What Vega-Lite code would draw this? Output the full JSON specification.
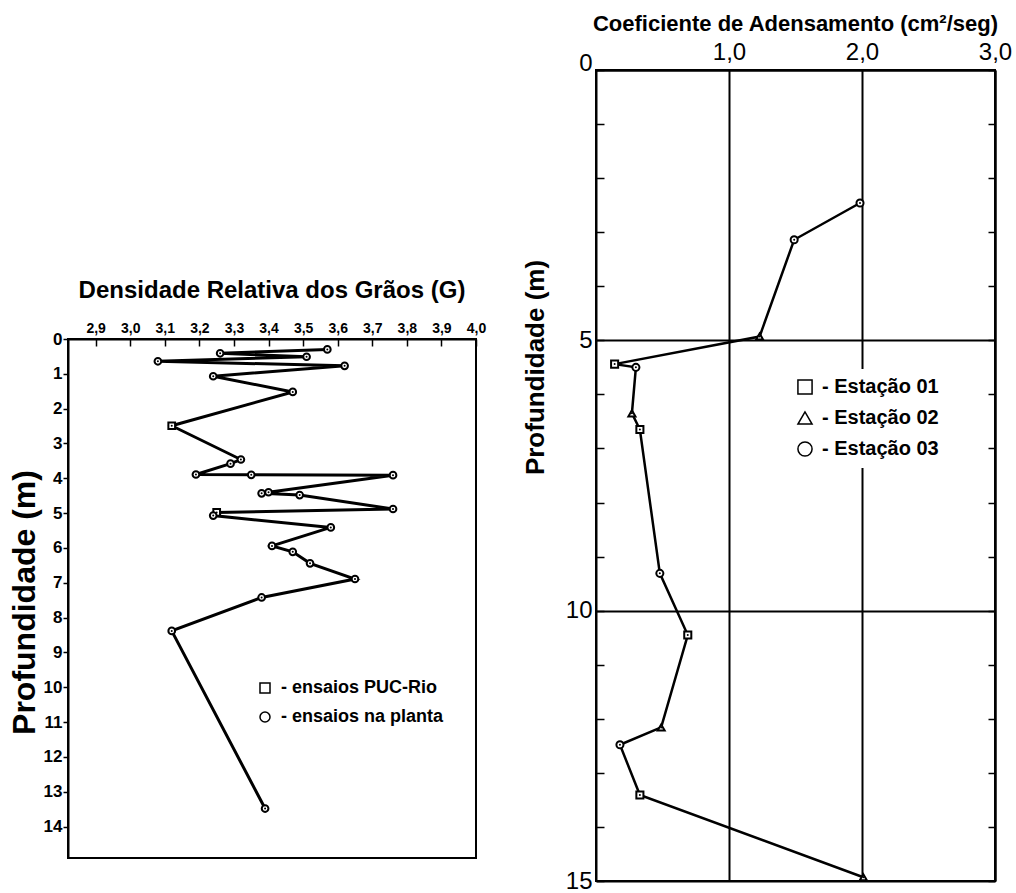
{
  "$schema": "https://vega.github.io/schema/vega-lite/v6.json",
  "background": "white",
  "padding": {"left": 7, "top": 12, "right": 0, "bottom": 0},
  "config": {
    "font": "Liberation Sans",
    "view": {"stroke": "black", "strokeWidth": 2},
    "axis": {"domainColor": "black", "domainWidth": 2, "tickColor": "black", "tickWidth": 1.5, "labelColor": "black", "titleColor": "black", "grid": false},
    "title": {"color": "black"},
    "legend": {"labelColor": "black"}
  },
  "datasets": {
    "dens": [
      {"G": 3.57, "depth": 0.30, "tipo": "ensaios na planta"},
      {"G": 3.26, "depth": 0.41, "tipo": "ensaios na planta"},
      {"G": 3.51, "depth": 0.51, "tipo": "ensaios na planta"},
      {"G": 3.08, "depth": 0.64, "tipo": "ensaios na planta"},
      {"G": 3.62, "depth": 0.77, "tipo": "ensaios na planta"},
      {"G": 3.24, "depth": 1.07, "tipo": "ensaios na planta"},
      {"G": 3.47, "depth": 1.52, "tipo": "ensaios na planta"},
      {"G": 3.12, "depth": 2.49, "tipo": "ensaios PUC-Rio"},
      {"G": 3.32, "depth": 3.46, "tipo": "ensaios na planta"},
      {"G": 3.29, "depth": 3.58, "tipo": "ensaios na planta"},
      {"G": 3.19, "depth": 3.89, "tipo": "ensaios na planta"},
      {"G": 3.35, "depth": 3.90, "tipo": "ensaios na planta"},
      {"G": 3.76, "depth": 3.91, "tipo": "ensaios na planta"},
      {"G": 3.40, "depth": 4.40, "tipo": "ensaios na planta"},
      {"G": 3.38, "depth": 4.43, "tipo": "ensaios na planta"},
      {"G": 3.49, "depth": 4.48, "tipo": "ensaios na planta"},
      {"G": 3.76, "depth": 4.88, "tipo": "ensaios na planta"},
      {"G": 3.25, "depth": 4.98, "tipo": "ensaios PUC-Rio"},
      {"G": 3.24, "depth": 5.07, "tipo": "ensaios na planta"},
      {"G": 3.58, "depth": 5.41, "tipo": "ensaios na planta"},
      {"G": 3.41, "depth": 5.94, "tipo": "ensaios na planta"},
      {"G": 3.47, "depth": 6.11, "tipo": "ensaios na planta"},
      {"G": 3.52, "depth": 6.44, "tipo": "ensaios na planta"},
      {"G": 3.65, "depth": 6.89, "tipo": "ensaios na planta"},
      {"G": 3.38, "depth": 7.42, "tipo": "ensaios na planta"},
      {"G": 3.12, "depth": 8.38, "tipo": "ensaios na planta"},
      {"G": 3.39, "depth": 13.48, "tipo": "ensaios na planta"}
    ],
    "coef": [
      {"c": 1.985, "depth": 2.46, "est": "Estação 03"},
      {"c": 1.49, "depth": 3.14, "est": "Estação 03"},
      {"c": 1.23, "depth": 4.93, "est": "Estação 02"},
      {"c": 0.14, "depth": 5.44, "est": "Estação 01"},
      {"c": 0.30, "depth": 5.50, "est": "Estação 03"},
      {"c": 0.27, "depth": 6.35, "est": "Estação 02"},
      {"c": 0.33, "depth": 6.65, "est": "Estação 01"},
      {"c": 0.48, "depth": 9.31, "est": "Estação 03"},
      {"c": 0.69, "depth": 10.45, "est": "Estação 01"},
      {"c": 0.49, "depth": 12.16, "est": "Estação 02"},
      {"c": 0.18, "depth": 12.48, "est": "Estação 03"},
      {"c": 0.33, "depth": 13.41, "est": "Estação 01"},
      {"c": 2.01, "depth": 14.93, "est": "Estação 02"}
    ]
  },
  "hconcat": [
    {
      "spacing": 0,
      "resolve": {"legend": {"shape": "independent"}, "scale": {"shape": "independent"}},
      "vconcat": [
        {
          "width": 408,
          "height": 208,
          "view": {"stroke": null},
          "data": {"values": [{}]},
          "mark": {"type": "point", "opacity": 0}
        },
        {
          "width": 408,
          "height": 519,
          "title": {"text": "Densidade Relativa dos Grãos (G)", "fontSize": 24, "fontWeight": "bold", "offset": 18},
          "data": {"name": "dens"},
          "encoding": {
            "x": {"field": "G", "type": "quantitative",
              "scale": {"domain": [2.82, 4.0], "nice": false, "zero": false},
              "axis": {"orient": "top", "values": [2.9, 3.0, 3.1, 3.2, 3.3, 3.4, 3.5, 3.6, 3.7, 3.8, 3.9, 4.0],
                "labelExpr": "replace(format(datum.value, '.1f'), '.', ',')",
                "labelFontSize": 14, "labelFontWeight": "bold", "tickSize": -7, "labelPadding": 11,
                "title": null, "labelFlush": false, "labelOverlap": false}},
            "y": {"field": "depth", "type": "quantitative",
              "scale": {"domain": [0, 14.9], "nice": false, "zero": false, "reverse": true},
              "axis": {"values": [0, 1, 2, 3, 4, 5, 6, 7, 8, 9, 10, 11, 12, 13, 14],
                "labelFontSize": 17, "labelFontWeight": "bold", "tickSize": 5, "labelPadding": 1,
                "labelOverlap": false, "title": "Profundidade (m)", "titleFontSize": 32,
                "titleFontWeight": "bold", "titlePadding": 2, "titleY": 263}}
          },
          "layer": [
            {
              "mark": {"type": "line", "color": "black", "strokeWidth": 3},
              "encoding": {
                "order": {"field": "depth", "type": "quantitative"}
              }
            },
            {
              "mark": {"type": "point", "filled": true, "fill": "white", "stroke": "black", "strokeWidth": 2, "opacity": 1, "size": 45},
              "encoding": {
                "shape": {"field": "tipo", "type": "nominal",
                  "scale": {"domain": ["ensaios PUC-Rio", "ensaios na planta"], "range": ["square", "circle"]},
                  "legend": {"orient": "none", "legendX": 188, "legendY": 340, "title": null,
                    "labelFontSize": 18, "labelFontWeight": "bold", "labelLimit": 400, "symbolSize": 100,
                    "labelOffset": 7, "rowPadding": 11, "padding": 0, "labelExpr": "'- ' + datum.label",
                    "encode": {"symbols": {"update": {"fill": {"value": "white"}, "stroke": {"value": "black"}, "strokeWidth": {"value": 2}, "opacity": {"value": 1}}}}}}
              }
            },
            {
              "mark": {"type": "point", "filled": true, "color": "black", "opacity": 1, "size": 4}
            }
          ]
        }
      ]
    },
    {
      "width": 399,
      "height": 811,
      "title": {"text": "Coeficiente de Adensamento (cm²/seg)", "fontSize": 22, "fontWeight": "bold", "offset": 4},
      "data": {"name": "coef"},
      "encoding": {
        "x": {"field": "c", "type": "quantitative",
          "scale": {"domain": [0, 3], "nice": false, "zero": false},
          "axis": {"orient": "top", "values": [1, 2, 3],
            "labelExpr": "replace(format(datum.value, '.1f'), '.', ',')",
            "labelFontSize": 24, "ticks": false, "labelPadding": 6, "grid": true,
            "gridColor": "black", "gridWidth": 2, "title": null, "labelFlush": false}}
      },
      "layer": [
        {
          "mark": {"type": "line", "color": "black", "strokeWidth": 2.5},
          "encoding": {
            "y": {"field": "depth", "type": "quantitative",
              "scale": {"domain": [0, 15], "nice": false, "zero": false, "reverse": true},
              "axis": {"values": [0, 1, 2, 3, 4, 5, 6, 7, 8, 9, 10, 11, 12, 13, 14, 15],
                "labelExpr": "datum.value % 5 === 0 ? datum.label : ''",
                "labelBaseline": {"condition": {"test": "datum.value === 0", "value": "alphabetic"}, "value": "middle"},
                "labelFontSize": 24, "tickSize": -8, "labelPadding": 12, "labelOverlap": false,
                "grid": true, "gridColor": "black", "gridWidth": 2,
                "gridOpacity": {"condition": {"test": "datum.value % 5 === 0", "value": 1}, "value": 0},
                "title": "Profundidade (m)", "titleFontSize": 26, "titleFontWeight": "bold",
                "titlePadding": 17, "titleY": 297}},
            "order": {"field": "depth", "type": "quantitative"}
          }
        },
        {
          "mark": {"type": "point", "filled": true, "fill": "white", "stroke": "black", "strokeWidth": 2, "opacity": 1, "size": 50},
          "encoding": {
            "y": {"field": "depth", "type": "quantitative",
              "axis": {"orient": "right", "values": [0, 1, 2, 3, 4, 5, 6, 7, 8, 9, 10, 11, 12, 13, 14, 15],
                "labels": false, "tickSize": -7, "title": null, "grid": false}},
            "shape": {"field": "est", "type": "nominal",
              "scale": {"domain": ["Estação 01", "Estação 02", "Estação 03"], "range": ["square", "triangle-up", "circle"]},
              "legend": {"orient": "none", "legendX": 191, "legendY": 299, "title": null, "fillColor": "white",
                "padding": 8, "symbolSize": 200, "labelFontSize": 20, "labelFontWeight": "bold",
                "labelOffset": 7, "rowPadding": 10, "labelExpr": "'- ' + datum.label",
                "encode": {"symbols": {"update": {"fill": {"value": "white"}, "stroke": {"value": "black"}, "strokeWidth": {"value": 3}, "opacity": {"value": 1}}}}}}
          }
        },
        {
          "mark": {"type": "point", "filled": true, "color": "black", "opacity": 1, "size": 4},
          "encoding": {
            "y": {"field": "depth", "type": "quantitative", "axis": null}
          }
        }
      ],
      "resolve": {"axis": {"y": "independent"}}
    }
  ],
  "spacing": 34,
  "resolve": {"scale": {"shape": "independent"}, "legend": {"shape": "independent"}}
}
